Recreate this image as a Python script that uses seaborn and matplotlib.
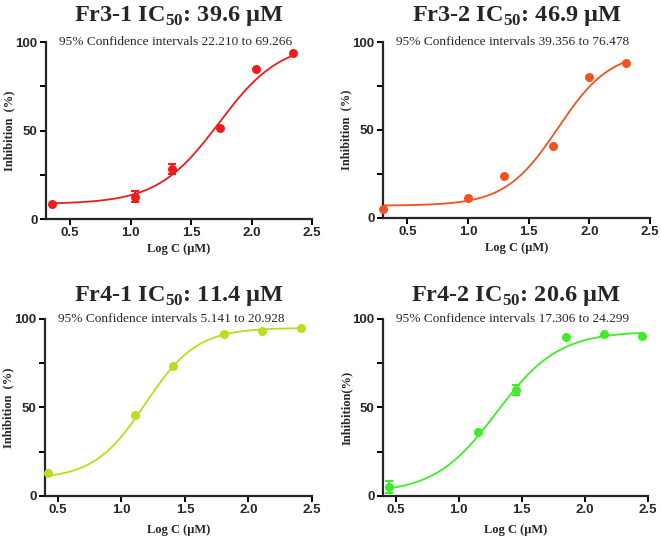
import matplotlib
matplotlib.use('Agg')
import matplotlib.pyplot as plt
import seaborn as sns
import numpy as np

# sample names, IC50 values and confidence intervals
names = ['Fr3-1', 'Fr3-2', 'Fr4-1', 'Fr4-2']
ic50 = ['39.6', '46.9', '11.4', '20.6']
ci_low = ['22.210', '39.356', '5.141', '17.306']
ci_high = ['69.266', '76.478', '20.928', '24.299']
colors = ['#ee1c1c', '#f4511e', '#b6df1c', '#40ec2a']
ylabels = ['Inhibition  (%)', 'Inhibition  (%)', 'Inhibition  (%)', 'Inhibition(%)']

# measured points (log concentration vs inhibition %)
logc_fr31 = [0.35, 1.04, 1.34, 1.74, 2.04, 2.34]
inhib_fr31 = [8.5, 12.6, 28.3, 51.5, 84.7, 93.6]
err_fr31 = [0, 3.0, 3.0, 0, 0, 0]

logc_fr32 = [0.30, 1.00, 1.30, 1.70, 2.00, 2.30]
inhib_fr32 = [4.9, 11.5, 23.8, 41.1, 80.2, 88.3]
err_fr32 = [0, 0, 0, 0, 0, 0]

logc_fr41 = [0.42, 1.11, 1.41, 1.81, 2.11, 2.41]
inhib_fr41 = [12.8, 45.5, 73.6, 91.3, 93.3, 94.9]
err_fr41 = [0, 0, 0, 0, 0, 0]

logc_fr42 = [0.45, 1.15, 1.45, 1.85, 2.15, 2.45]
inhib_fr42 = [5.1, 36.4, 59.8, 89.6, 91.3, 90.6]
err_fr42 = [3.5, 0, 3.0, 0, 0, 0]

# fitted 4-parameter logistic curves: bottom, top, logEC50, hill slope
fit_bottom = [8.5, 7.0, 9.5, 1.5]
fit_top = [100.0, 95.0, 95.0, 93.0]
fit_logec50 = [1.73, 1.74, 1.19, 1.30]
fit_hill = [1.7, 2.0, 2.15, 1.77]

xlims = [(0.3, 2.5), (0.3, 2.5), (0.4, 2.5), (0.4, 2.5)]

logc_all = [logc_fr31, logc_fr32, logc_fr41, logc_fr42]
inhib_all = [inhib_fr31, inhib_fr32, inhib_fr41, inhib_fr42]
err_all = [err_fr31, err_fr32, err_fr41, err_fr42]

sns.set_style('ticks')
plt.rcParams['font.family'] = ['Liberation Serif', 'DejaVu Serif']
plt.rcParams['mathtext.fontset'] = 'custom'
plt.rcParams['mathtext.rm'] = 'Liberation Serif'
plt.rcParams['mathtext.bf'] = 'Liberation Serif:bold'

fig = plt.figure(figsize=(6.61, 5.42), dpi=100)
positions = [
    [0.0696, 0.5959, 0.4024, 0.3266],
    [0.5794, 0.5978, 0.4040, 0.3247],
    [0.0681, 0.0849, 0.4040, 0.3266],
    [0.5794, 0.0849, 0.4010, 0.3266],
]
title_pad = [15, 15, 13, 13]
xlabel_y = [-0.135, -0.135, -0.16, -0.16]


def hill(x, bottom, top, logec, h):
    return bottom + (top - bottom) / (1 + 10 ** ((logec - x) * h))


for i in range(4):
    ax = fig.add_axes(positions[i])
    c = colors[i]
    x = np.array(logc_all[i])
    y = np.array(inhib_all[i])
    e = np.array(err_all[i])

    xs = np.linspace(x.min(), x.max(), 200)
    ys = hill(xs, fit_bottom[i], fit_top[i], fit_logec50[i], fit_hill[i])
    sns.lineplot(x=xs, y=ys, ax=ax, color=c, lw=1.3, clip_on=False)
    sns.scatterplot(x=x, y=y, ax=ax, color=c, s=42, edgecolor=c,
                    linewidth=0, clip_on=False, zorder=3)
    m = e > 0
    if m.any():
        ax.errorbar(x[m], y[m], yerr=e[m], fmt='none', ecolor=c,
                    elinewidth=1.5, capsize=3, capthick=1.5, clip_on=False)

    ax.set_xlim(*xlims[i])
    ax.set_ylim(0, 100)
    ax.set_xticks([0.5, 1.0, 1.5, 2.0, 2.5])
    ax.set_xticklabels(['0.5', '1.0', '1.5', '2.0', '2.5'])
    ax.set_yticks([0, 50, 100])
    ax.set_yticks([25, 75], minor=True)
    for lab in ax.get_xticklabels() + ax.get_yticklabels():
        lab.set_fontfamily('Liberation Sans')
        lab.set_fontweight('bold')
        lab.set_fontsize(9.5)
    ax.tick_params(which='both', width=1.4, length=4, pad=2, color='black')
    for s in ['left', 'bottom']:
        ax.spines[s].set_linewidth(1.6)
    sns.despine(ax=ax)

    ax.set_xlabel('Log C (μM)', fontsize=9, fontweight='bold')
    ax.xaxis.set_label_coords(0.5, xlabel_y[i])
    ax.set_ylabel(ylabels[i], fontsize=9, fontweight='bold')
    ax.yaxis.set_label_coords(-0.115, 0.5)

    ax.set_title(names[i] + ' IC$_{\\mathbf{50}}$: ' + ic50[i] + ' μM',
                 fontsize=17.5, fontweight='bold', pad=title_pad[i])
    ax.text(0.05, 1.0, '95% Confidence intervals ' + ci_low[i] + ' to ' + ci_high[i],
            transform=ax.transAxes, ha='left', va='center', fontsize=9.6)

fig.savefig('out.png', dpi=100)
